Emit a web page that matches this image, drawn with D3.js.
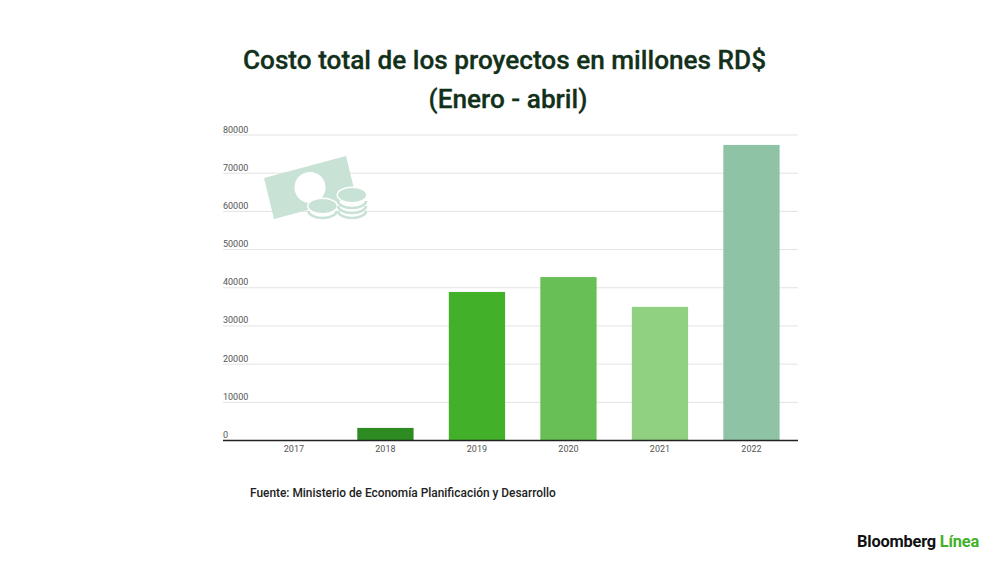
<!DOCTYPE html>
<html>
<head>
<meta charset="utf-8">
<script src="https://cdn.jsdelivr.net/npm/d3@7"></script>
<style>
  html, body { margin: 0; padding: 0; background: #fff; }
  svg { display: block; font-family: Roboto, sans-serif; }
</style>
</head>
<body>
<div id="chart"></div>
<script>
// chart data
var years = ["2017", "2018", "2019", "2020", "2021", "2022"];
var costs = [0, 3300, 38900, 42800, 35000, 77400];
var barColors = ["#2e8b22", "#2e8b22", "#43b02a", "#68bf55", "#8fd180", "#8fc3a6"];
var yTicks = [0, 10000, 20000, 30000, 40000, 50000, 60000, 70000, 80000];

var svg = d3.select("#chart")
  .append("svg")
  .attr("width", 1000)
  .attr("height", 562);

var x = d3.scaleBand()
  .domain(years)
  .range([248.4, 797])
  .paddingInner(0.385)
  .paddingOuter(0.19);

var y = d3.scaleLinear()
  .domain([0, 80000])
  .range([440.5, 135]);

// title
svg.append("g")
  .selectAll(null)
  .data(["Costo total de los proyectos en millones RD$", "(Enero - abril)"])
  .enter()
  .append("text")
    .attr("x", function (d, i) { return i ? 508 : 504.5; })
    .attr("y", function (d, i) { return 68.5 + i * 39; })
    .attr("text-anchor", "middle")
    .attr("font-size", 26.2)
    .attr("font-weight", 500)
    .attr("stroke", "#12301a")
    .attr("stroke-width", 0.3)
    .attr("fill", "#12301a")
    .text(function (d) { return d; });

// gridlines
svg.append("g")
  .selectAll(null)
  .data(yTicks.slice(1))
  .enter()
  .append("line")
    .attr("x1", 223)
    .attr("x2", 798)
    .attr("y1", function (d) { return y(d); })
    .attr("y2", function (d) { return y(d); })
    .attr("stroke", "#e3e3e3")
    .attr("stroke-width", 1);

// y labels sit above the gridlines
svg.append("g")
  .selectAll(null)
  .data(yTicks)
  .enter()
  .append("text")
    .attr("x", 223)
    .attr("y", function (d) { return y(d) - 2.5; })
    .attr("font-size", 9)
    .attr("fill", "#555")
    .text(function (d) { return d; });

// money icon
var icon = svg.append("g");
icon.append("polygon")
  .attr("points", "264,178 346,156 356,197 274,219")
  .attr("fill", "#c8e2d5");
icon.append("circle")
  .attr("cx", 310).attr("cy", 187.5).attr("r", 15.5)
  .attr("fill", "#fff");

function coin(cx, cy, filled) {
  if (filled) {
    icon.append("ellipse")
      .attr("cx", cx).attr("cy", cy).attr("rx", 15.5).attr("ry", 8.5)
      .attr("fill", "#fff");
    icon.append("ellipse")
      .attr("cx", cx).attr("cy", cy).attr("rx", 14).attr("ry", 7)
      .attr("fill", "#c8e2d5");
  } else {
    icon.append("path")
      .attr("d", "M" + (cx - 14) + "," + cy + " a14,7 0 0 0 28,0")
      .attr("fill", "#fff")
      .attr("stroke", "#c8e2d5")
      .attr("stroke-width", 2.6);
  }
}
coin(322.5, 211, false);
coin(322.5, 206, true);
coin(352, 211, false);
coin(352, 206, false);
coin(352, 201, false);
coin(352, 195, true);

// bars
svg.append("g")
  .selectAll(null)
  .data(costs)
  .enter()
  .append("rect")
    .attr("x", function (d, i) { return x(years[i]); })
    .attr("y", function (d) { return y(d); })
    .attr("width", x.bandwidth())
    .attr("height", function (d) { return y(0) - y(d); })
    .attr("fill", function (d, i) { return barColors[i]; });

// baseline
svg.append("line")
  .attr("x1", 223)
  .attr("x2", 798)
  .attr("y1", y(0))
  .attr("y2", y(0))
  .attr("stroke", "#222")
  .attr("stroke-width", 1.4);

// x labels
svg.append("g")
  .selectAll(null)
  .data(years)
  .enter()
  .append("text")
    .attr("x", function (d) { return x(d) + x.bandwidth() / 2; })
    .attr("y", 452)
    .attr("text-anchor", "middle")
    .attr("font-size", 9)
    .attr("fill", "#555")
    .text(function (d) { return d; });

// source
svg.append("text")
  .attr("x", 250)
  .attr("y", 497)
  .attr("font-size", 11.9)
  .attr("font-weight", 500)
  .attr("fill", "#222")
  .text("Fuente: Ministerio de Economía Planificación y Desarrollo");

// logo
var logo = svg.append("text")
  .attr("x", 857)
  .attr("y", 547)
  .attr("font-size", 16.4)
  .attr("font-weight", 700)
  .attr("letter-spacing", -0.2)
  .attr("fill", "#111");
logo.append("tspan").text("Bloomberg ");
logo.append("tspan").attr("fill", "#43b02a").text("Línea");
</script>
</body>
</html>
